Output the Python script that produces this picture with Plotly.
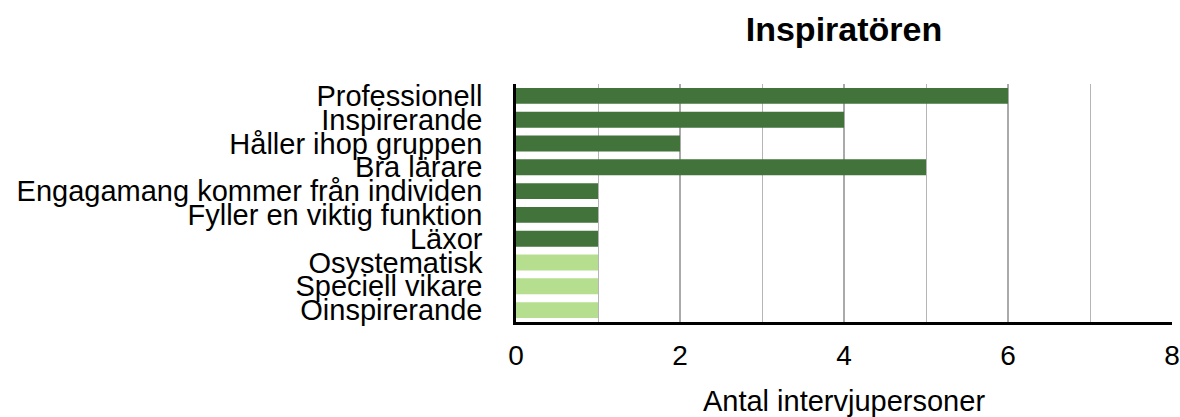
import plotly.graph_objects as go

categories = ["Professionell", "Inspirerande", "Håller ihop gruppen", "Bra lärare",
              "Engagamang kommer från individen", "Fyller en viktig funktion", "Läxor",
              "Osystematisk", "Speciell vikare", "Oinspirerande"]
values = [6, 4, 2, 5, 1, 1, 1, 1, 1, 1]
groups = ["pos", "pos", "pos", "pos", "pos", "pos", "pos", "neg", "neg", "neg"]
x_ticks = [0, 2, 4, 6, 8]

group_colors = {"pos": "#41733b", "neg": "#b5de8f"}
colors = [group_colors[g] for g in groups]

font_family = "Liberation Sans, Arial, Helvetica, sans-serif"

fig = go.Figure()
fig.add_trace(go.Bar(
    x=values, y=categories, orientation="h",
    marker=dict(color=colors, line=dict(width=0)),
    showlegend=False,
))

fig.update_layout(
    width=1180, height=417,
    margin=dict(l=516, r=8, t=84, b=95, autoexpand=False),
    paper_bgcolor="white", plot_bgcolor="white",
    bargap=0.33,
    font=dict(family=font_family, size=29, color="black"),
    title=dict(text="<b>Inspiratören</b>", x=0.5, xref="paper", xanchor="center",
               y=0.93, yref="container", yanchor="middle",
               font=dict(size=34, family=font_family, color="black")),
)

fig.update_xaxes(
    range=[0, 8], tickmode="array", tickvals=x_ticks, ticktext=[str(v) for v in x_ticks],
    showgrid=True, gridcolor="#aaaaaa", gridwidth=2,
    minor=dict(dtick=1, tick0=0, showgrid=True, gridcolor="#b5b5b5", gridwidth=1.2, ticks=""),
    showline=True, linecolor="black", linewidth=2.5,
    ticks="", ticklabelstandoff=7, zeroline=False, automargin=False,
    tickfont=dict(size=28),
    title=dict(text="Antal intervjupersoner", font=dict(size=29), standoff=22),
)
fig.update_yaxes(
    categoryorder="array", categoryarray=categories, autorange="reversed",
    tickmode="array", tickvals=categories, ticktext=categories,
    showline=True, linecolor="black", linewidth=2.5, automargin=False,
    showgrid=False, ticks="", ticklabelstandoff=25,
    tickfont=dict(size=29),
)

fig.write_html("out.html", config={"displayModeBar": False},
               post_script="document.body.style.margin='0';document.body.style.overflow='hidden';")
